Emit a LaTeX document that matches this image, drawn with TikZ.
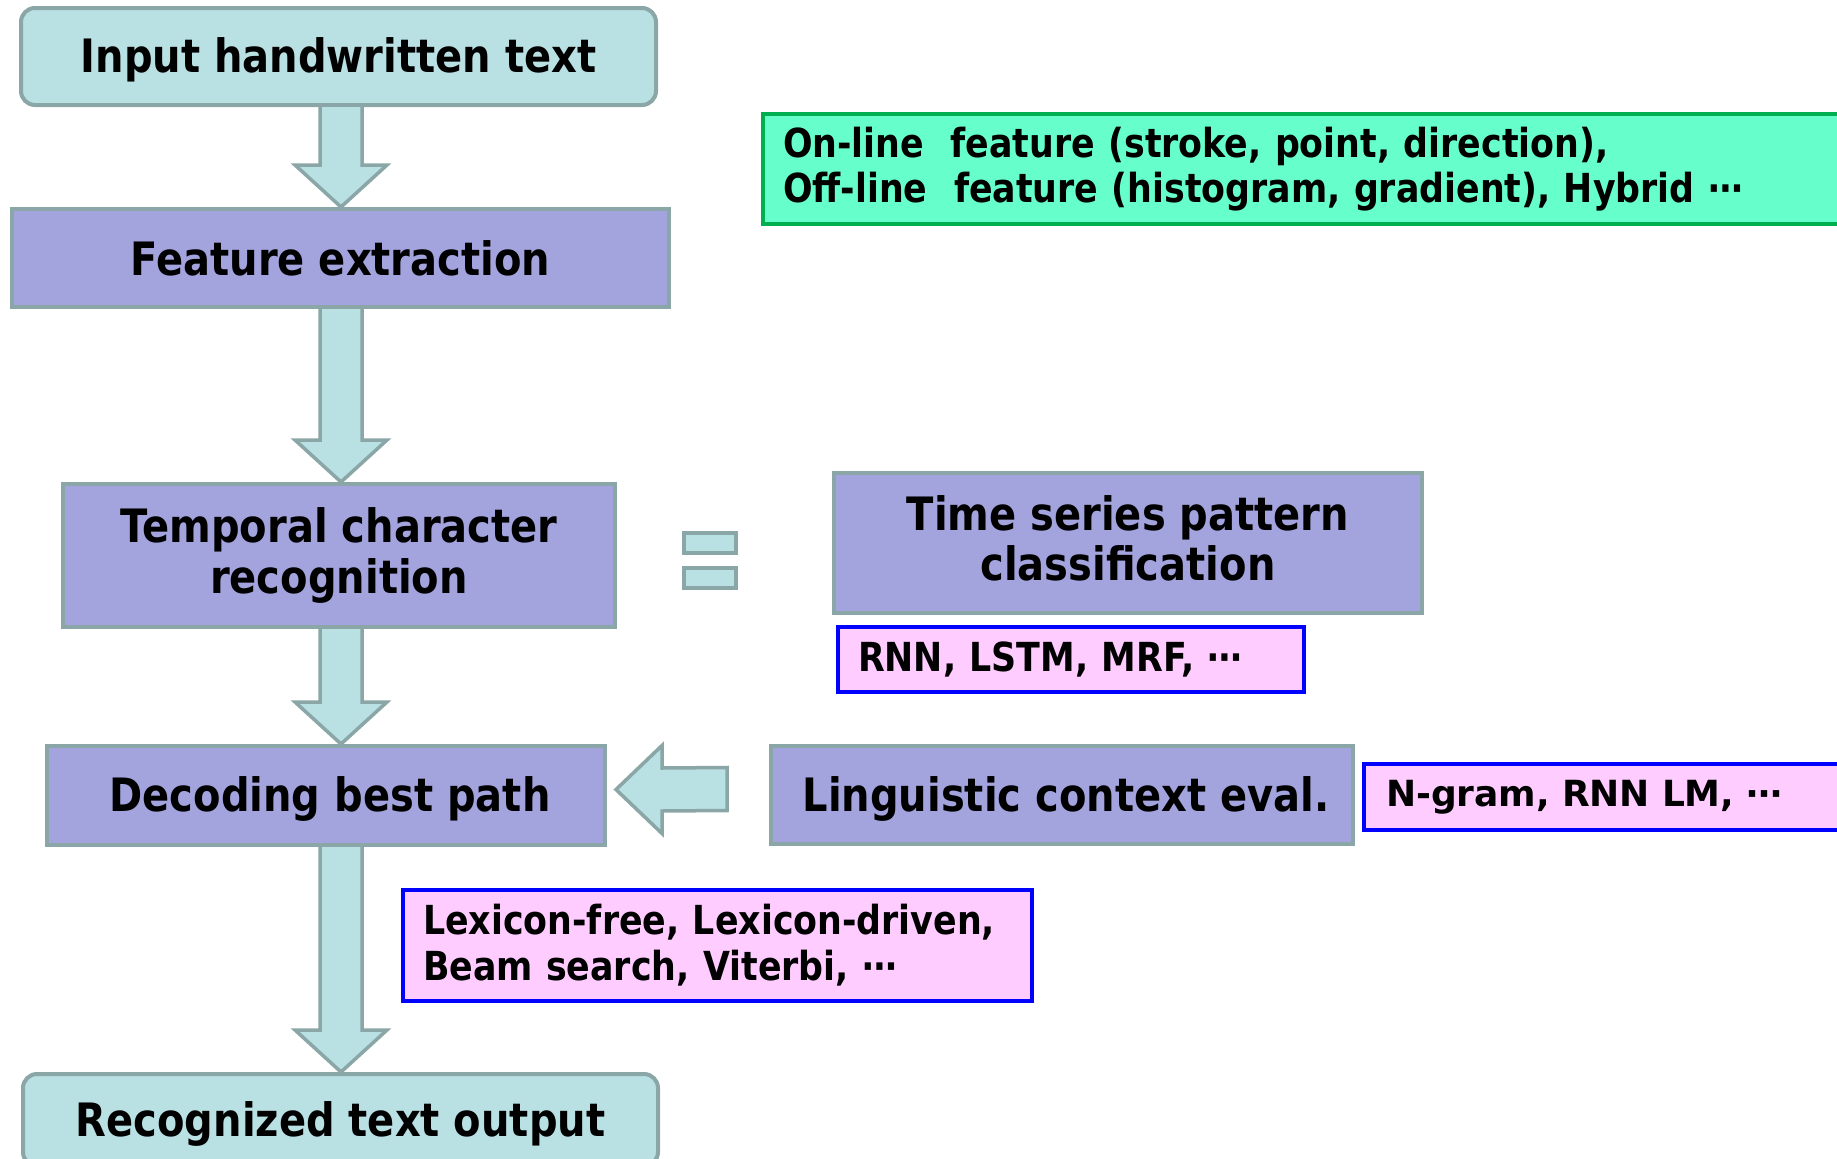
\documentclass[tikz,border=0pt]{standalone}
\usepackage{fontspec}
\usetikzlibrary{calc}
\newfontfamily\mainf[FakeStretch=0.87]{DejaVu Sans}
\newfontfamily\widef{DejaVu Sans}
\definecolor{tealfill}{HTML}{B9E0E3}
\definecolor{greyline}{HTML}{8AA6A6}
\definecolor{purp}{HTML}{A3A3DE}
\definecolor{grfill}{HTML}{66FFCC}
\definecolor{grline}{HTML}{00B050}
\definecolor{pinkfill}{HTML}{FFCCFF}
\newcommand\lowertext[2]{\raisebox{#1}[\height][\depth]{#2}}
\tikzset{
  tealbox/.style={draw=greyline,fill=tealfill,line width=4pt,rounded corners=14pt,inner sep=0pt,font=\mainf\bfseries\fontsize{46}{52}\selectfont},
  purpbox/.style={draw=greyline,fill=purp,line width=4pt,inner sep=0pt,align=center,font=\mainf\bfseries\fontsize{46}{51}\selectfont},
  greenbox/.style={draw=grline,fill=grfill,line width=4pt,inner ysep=0pt,align=left,font=\mainf\bfseries\fontsize{40}{45}\selectfont},
  pinkbox/.style={draw=blue,fill=pinkfill,line width=4pt,inner ysep=0pt,align=left,font=\mainf\bfseries\fontsize{40}{46}\selectfont},
  barrow/.style={fill=tealfill,draw=greyline,line width=3.5pt,line join=miter},
  eqbar/.style={fill=tealfill,draw=greyline,line width=4pt}
}
\newcommand\blockdown[2]{%
  \fill[tealfill] ($(#1.south -| spine)+(-21,0)$) -- ($(#2.north -| spine)+(-21,-42)$) -- ($(#2.north -| spine)+(-46,-42)$) -- (#2.north -| spine) -- ($(#2.north -| spine)+(46,-42)$) -- ($(#2.north -| spine)+(21,-42)$) -- ($(#1.south -| spine)+(21,0)$) -- cycle;
  \draw[barrow,fill=none] ($(#1.south -| spine)+(-21,0)$) -- ($(#2.north -| spine)+(-21,-42)$) -- ($(#2.north -| spine)+(-46,-42)$) -- (#2.north -| spine) -- ($(#2.north -| spine)+(46,-42)$) -- ($(#2.north -| spine)+(21,-42)$) -- ($(#1.south -| spine)+(21,0)$);}
\begin{document}
\begin{tikzpicture}[x=1pt,y=-1pt]
\useasboundingbox (0,0) rectangle (1837,1159);
\coordinate (spine) at (341,0);
% boxes
\node[tealbox,minimum width=635pt,minimum height=97pt] (input) at (338.5,56.5) {\lowertext{-3.5pt}{Input handwritten text}};
\node[purpbox,minimum width=657pt,minimum height=98pt] (feat) at (340.5,258) {Feature extraction};
\node[greenbox,minimum width=1077pt,minimum height=110pt,text width=1037pt,inner xsep=20pt] (green) at (1301.5,169) {On-line\ \ feature (stroke, point, direction),\\Off-line\ \ feature (histogram, gradient), Hybrid ⋯};
\node[purpbox,minimum width=552pt,minimum height=143pt] (temp) at (339,555.5) {Temporal character\\recognition};
\node[eqbar,minimum width=52pt,minimum height=20pt,inner sep=0pt] (eqa) at (710,542.5) {};
\node[eqbar,minimum width=52pt,minimum height=20pt,inner sep=0pt] (eqb) at (710,577.5) {};
\node[purpbox,minimum width=588pt,minimum height=140pt] (time) at (1128,543) {\lowertext{-2pt}{\begin{tabular}{@{}c@{}}Time series pattern\\[-1pt]classification\end{tabular}}};
\node[pinkbox,minimum width=466pt,minimum height=65pt,text width=426pt,inner xsep=20pt] (rnn) at (1071,659.5) {RNN, LSTM, MRF, ⋯};
\node[purpbox,minimum width=558pt,minimum height=99pt] (dec) at (326,795.5) {\hspace*{8pt}\lowertext{-3.5pt}{Decoding best path}};
\node[purpbox,minimum width=582pt,minimum height=98pt] (ling) at (1062,795) {\hspace*{8pt}\lowertext{-3.5pt}{Linguistic context eval.}};
\node[pinkbox,font=\widef\bfseries\fontsize{36}{45}\selectfont,minimum width=476pt,minimum height=66pt,text width=432pt,inner xsep=22pt] (ngram) at (1602,797) {N-gram, RNN LM, ⋯};
\node[pinkbox,minimum width=629pt,minimum height=111pt,text width=589pt,inner xsep=20pt] (lex) at (717.5,945.5) {Lexicon-free, Lexicon-driven,\\Beam search, Viterbi, ⋯};
\node[tealbox,minimum width=635pt,minimum height=92pt] (recog) at (340.5,1120) {\lowertext{-3.5pt}{Recognized text output}};
% down arrows
\blockdown{input}{feat}
\blockdown{feat}{temp}
\blockdown{temp}{dec}
\blockdown{dec}{recog}
% left arrow
\coordinate (ltail) at ($(ling.west)+(-42,-6)$);
\coordinate (ltip) at ($(dec.east)+(9,-6)$);
\draw[barrow] (ltail) ++(0,-21.5) -- ($(ltip)+(46,-21.5)$) -- ($(ltip)+(46,-44)$) -- (ltip) -- ($(ltip)+(46,44)$) -- ($(ltip)+(46,21.5)$) -- ($(ltail)+(0,21.5)$) -- cycle;
\end{tikzpicture}
\end{document}
